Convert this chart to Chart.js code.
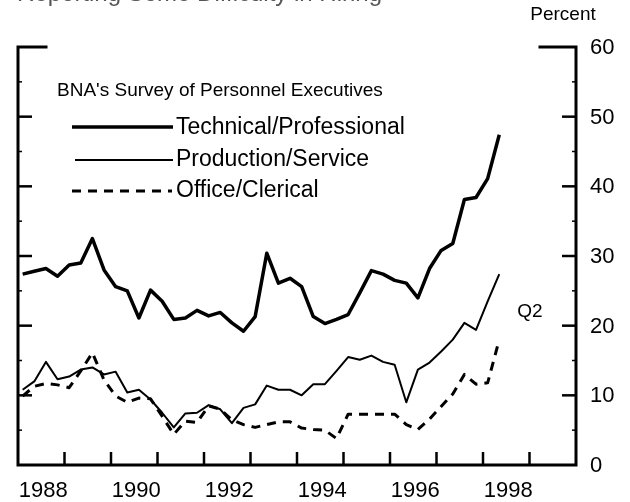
<!DOCTYPE html>
<html>
<head>
<meta charset="utf-8">
<script src="https://cdn.jsdelivr.net/npm/chart.js@4/dist/chart.umd.min.js"></script>
<style>
  html, body { margin: 0; padding: 0; background: #fff; }
  canvas { display: block; }
</style>
</head>
<body>
<canvas id="chart" width="630" height="502"></canvas>
<script>
// quarterly data, 1988 Q1 .. 1998 Q2
const firstYear = 1988;
const yearLabels = ["1988", "1990", "1992", "1994", "1996", "1998"];
const yTickValues = [0, 10, 20, 30, 40, 50, 60];
const seriesNames = ["Technical/Professional", "Production/Service", "Office/Clerical"];
const legendTitle = "BNA's Survey of Personnel Executives";
const topTitle = "Reporting Some Difficulty in Hiring";

const technical = [
  27.4, 27.8, 28.2, 27.1, 28.7, 29.0, 32.5, 28.0, 25.6, 25.0,
  21.1, 25.1, 23.5, 20.9, 21.1, 22.2, 21.4, 21.9, 20.4, 19.2,
  21.3, 30.4, 26.1, 26.8, 25.6, 21.3, 20.3, 20.9, 21.6, 24.7,
  27.9, 27.4, 26.5, 26.1, 24.0, 28.2, 30.8, 31.8, 38.1, 38.4,
  41.1, 47.4
];
const production = [
  10.8, 12.0, 14.8, 12.3, 12.7, 13.7, 14.0, 13.0, 13.4, 10.4,
  10.8, 9.4, 7.5, 5.4, 7.4, 7.5, 8.6, 8.0, 6.0, 8.2,
  8.7, 11.4, 10.8, 10.8, 10.0, 11.6, 11.6, 13.5, 15.5, 15.1,
  15.7, 14.8, 14.4, 9.0, 13.7, 14.7, 16.3, 18.0, 20.4, 19.4,
  23.5, 27.4
];
const office = [
  9.9, 11.3, 11.7, 11.5, 11.1, 13.5, 16.1, 12.2, 9.9, 9.0,
  9.6, 9.5, 7.0, 4.4, 6.3, 6.1, 8.5, 8.0, 6.5, 5.8,
  5.4, 5.8, 6.2, 6.2, 5.3, 5.1, 5.0, 3.8, 7.3, 7.3,
  7.3, 7.3, 7.3, 5.8, 5.1, 6.6, 8.4, 10.2, 13.0, 11.6,
  11.8, 18.0
];

const FONT = '"Liberation Sans", Arial, Helvetica, sans-serif';

function toPoints(values) {
  return values.map((v, i) => ({ x: firstYear + i * 0.25 + 0.1, y: v }));
}

function hline(ctx, x1, x2, y) {
  ctx.beginPath();
  ctx.moveTo(x1, y);
  ctx.lineTo(x2, y);
  ctx.stroke();
}

const decorations = {
  id: "decorations",
  afterDraw(chart) {
    const ctx = chart.ctx;
    const xs = chart.scales.x;
    const ys = chart.scales.y;
    const L = xs.getPixelForValue(1988);
    const R = xs.getPixelForValue(2000);
    const T = ys.getPixelForValue(60);
    const B = ys.getPixelForValue(0);

    ctx.save();
    ctx.strokeStyle = "#000";
    ctx.fillStyle = "#000";

    // frame
    ctx.lineWidth = 3;
    ctx.lineCap = "square";
    ctx.beginPath();
    ctx.moveTo(L + 28, T);
    ctx.lineTo(L, T);
    ctx.lineTo(L, B);
    ctx.lineTo(R, B);
    ctx.lineTo(R, T);
    ctx.lineTo(R - 36, T);
    ctx.stroke();

    // y ticks, inward on both sides
    ctx.lineCap = "butt";
    ctx.lineWidth = 2.5;
    yTickValues.forEach(v => {
      if (v === 0 || v === 60) return;
      const py = ys.getPixelForValue(v);
      hline(ctx, L, L + 14, py);
      hline(ctx, R - 14, R, py);
    });
    ctx.lineWidth = 1.5;
    yTickValues.forEach(v => {
      if (v === 60) return;
      const py = ys.getPixelForValue(v + 5);
      hline(ctx, L, L + 4, py);
      hline(ctx, R - 4, R, py);
    });

    // x ticks at year boundaries
    ctx.lineWidth = 2.5;
    for (let yr = firstYear + 1; yr < 2000; yr++) {
      const px = xs.getPixelForValue(yr);
      ctx.beginPath();
      ctx.moveTo(px, B);
      ctx.lineTo(px, B - 13);
      ctx.stroke();
    }

    // x labels centred in the year
    ctx.font = "22px " + FONT;
    ctx.textAlign = "center";
    ctx.textBaseline = "middle";
    yearLabels.forEach(lab => {
      const px = xs.getPixelForValue(Number(lab) + 0.5) + 2;
      ctx.fillText(lab, px, B + 26);
    });

    // y labels on the right
    ctx.textAlign = "left";
    yTickValues.forEach(v => {
      ctx.fillText(String(v), R + 14, ys.getPixelForValue(v) + 1);
    });

    ctx.font = "19px " + FONT;
    ctx.textAlign = "center";
    ctx.fillText("Percent", 563, 15);

    // clipped heading at the very top
    ctx.fillStyle = "#555";
    ctx.font = "24px " + FONT;
    ctx.textAlign = "left";
    ctx.textBaseline = "alphabetic";
    ctx.fillText(topTitle, 17, 1);
    ctx.fillStyle = "#000";

    // legend
    ctx.textBaseline = "middle";
    ctx.font = "19px " + FONT;
    ctx.fillText(legendTitle, 57, 91);

    ctx.font = "23px " + FONT;
    ctx.lineWidth = 3.5;
    hline(ctx, 72, 173, 127);
    ctx.fillText(seriesNames[0], 176, 128);

    ctx.lineWidth = 2;
    hline(ctx, 75, 173, 160);
    ctx.fillText(seriesNames[1], 176, 160);

    ctx.lineWidth = 3;
    ctx.setLineDash([9, 7]);
    hline(ctx, 72, 172, 191);
    ctx.setLineDash([]);
    ctx.fillText(seriesNames[2], 176, 191);

    // Q2 marker for last observation
    ctx.font = "19px " + FONT;
    ctx.textAlign = "center";
    ctx.fillText("Q2", 530, 312);

    ctx.restore();
  }
};

new Chart(document.getElementById("chart"), {
  type: "line",
  data: {
    datasets: [
      {
        label: seriesNames[0],
        data: toPoints(technical),
        borderColor: "#000",
        borderWidth: 3.5,
        pointRadius: 0,
        tension: 0,
        borderJoinStyle: "round"
      },
      {
        label: seriesNames[1],
        data: toPoints(production),
        borderColor: "#000",
        borderWidth: 2,
        pointRadius: 0,
        tension: 0,
        borderJoinStyle: "round"
      },
      {
        label: seriesNames[2],
        data: toPoints(office),
        borderColor: "#000",
        borderWidth: 3,
        borderDash: [9, 7],
        pointRadius: 0,
        tension: 0,
        borderJoinStyle: "round"
      }
    ]
  },
  options: {
    responsive: false,
    animation: false,
    devicePixelRatio: 1,
    layout: { padding: { left: 18, right: 54, top: 47, bottom: 37 } },
    plugins: {
      legend: { display: false },
      tooltip: { enabled: false }
    },
    scales: {
      x: { type: "linear", min: 1988, max: 2000, display: false },
      y: { min: 0, max: 60, display: false }
    }
  },
  plugins: [decorations]
});
</script>
</body>
</html>
